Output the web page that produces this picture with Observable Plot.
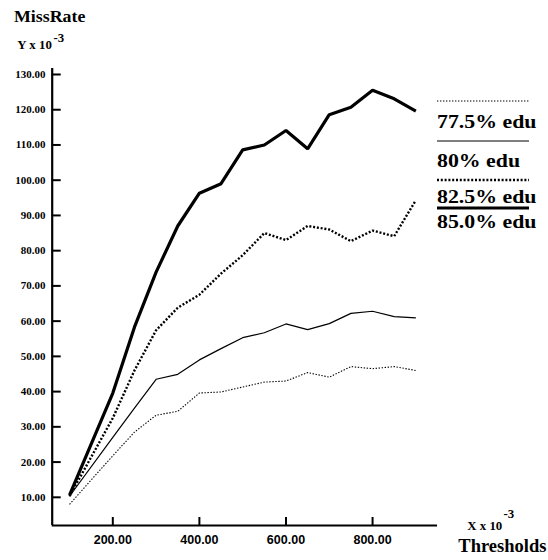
<!DOCTYPE html>
<html>
<head>
<meta charset="utf-8">
<script src="https://cdn.jsdelivr.net/npm/d3@7"></script>
<script src="https://cdn.jsdelivr.net/npm/@observablehq/plot@0.6"></script>
<style>
  html, body { margin: 0; padding: 0; background: #fff; }
  #chart { position: relative; width: 548px; height: 560px; }
</style>
</head>
<body>
<div id="chart"></div>
<script>
// ---- data ----
const thresholds = [100, 200, 250, 300, 350, 400, 450, 500, 550, 600, 650, 700, 750, 800, 850, 900];
const edu775 = [8.0, 21.8, 28.5, 33.3, 34.4, 39.6, 39.9, 41.3, 42.7, 43.0, 45.4, 44.1, 47.1, 46.5, 47.1, 46.0];
const edu80  = [10.3, 27.0, 35.3, 43.5, 44.9, 49.0, 52.2, 55.3, 56.7, 59.2, 57.6, 59.3, 62.2, 62.8, 61.3, 60.9];
const edu825 = [10.3, 32.5, 46.0, 57.4, 63.8, 67.5, 73.5, 78.7, 85.0, 83.0, 87.0, 86.0, 82.7, 85.7, 84.1, 94.3];
const edu85  = [10.6, 39.6, 58.3, 73.9, 87.0, 96.3, 99.0, 108.6, 110.0, 114.1, 108.9, 118.6, 120.7, 125.5, 123.1, 119.6];
const seriesNames = ["77.5% edu", "80% edu", "82.5% edu", "85.0% edu"];
const yTicks = [10, 20, 30, 40, 50, 60, 70, 80, 90, 100, 110, 120, 130];
const xTicks = [200, 400, 600, 800];
const xDomain = [60, 950];
const yDomain = [2, 131.7];

// ---- styles ----
const seriesValues = [edu775, edu80, edu825, edu85];
const lineStyles = [
  {strokeWidth: 1.1, strokeDasharray: "1.4,1.6"},
  {strokeWidth: 1.2, strokeDasharray: null},
  {strokeWidth: 2.4, strokeDasharray: "2,1.8"},
  {strokeWidth: 3.2, strokeDasharray: null}
];
const SERIF = "'Liberation Serif', 'Times New Roman', serif";
const SANS = "'Liberation Sans', Arial, sans-serif";

const rows = seriesNames.flatMap((name, i) =>
  thresholds.map((t, j) => ({name, x: t, y: seriesValues[i][j]})));

const lineMarks = seriesNames.map((name, i) =>
  Plot.line(rows.filter(d => d.name === name), {
    x: "x", y: "y", stroke: "black",
    strokeWidth: lineStyles[i].strokeWidth,
    strokeDasharray: lineStyles[i].strokeDasharray,
    strokeLinecap: "butt",
    strokeLinejoin: "miter"
  }));

const chart = Plot.plot({
  width: 548,
  height: 560,
  marginLeft: 51.7,
  marginRight: 111,
  marginTop: 68,
  marginBottom: 35,
  style: {background: "#fff", color: "black"},
  x: {domain: xDomain, label: null},
  y: {domain: yDomain, label: null},
  marks: [
    Plot.ruleX([xDomain[0]], {strokeWidth: 2.2, stroke: "black"}),
    Plot.ruleY([yDomain[0]], {strokeWidth: 2.2, stroke: "black"}),
    Plot.axisY(yTicks, {tickSize: -9, strokeWidth: 2, tickFormat: () => "", label: null}),
    Plot.axisX(xTicks, {tickSize: -8, strokeWidth: 2, tickFormat: () => "", label: null}),
    ...lineMarks,
    Plot.text(yTicks, {
      y: d => d, frameAnchor: "left", dx: -6.7, textAnchor: "end",
      text: d => d.toFixed(2), fontFamily: SERIF, fontWeight: "bold", fontSize: 11,
      fill: "black", ariaLabel: "ylabels"
    }),
    Plot.text(xTicks, {
      x: d => d, frameAnchor: "bottom", dy: 18,
      text: d => d.toFixed(2), fontFamily: SANS, fontWeight: "bold", fontSize: 12.5,
      fill: "black"
    })
  ]
});

document.getElementById("chart").appendChild(chart);

// stretch the y tick labels horizontally like the original rendering
d3.select(chart).selectAll('g[aria-label="ylabels"] text').each(function () {
  const t = this.getAttribute("transform") || "";
  const x = this.getAttribute("x"), y = this.getAttribute("y");
  let pre = t;
  if (x !== null || y !== null) {
    pre += ` translate(${+x || 0},${+y || 0})`;
    this.removeAttribute("x"); this.removeAttribute("y");
  }
  this.setAttribute("transform", pre + " scale(1.25,1)");
});

// titles and legend
const svg = d3.select(chart);
const deco = svg.append("g")
  .attr("font-family", SERIF).attr("font-weight", "bold")
  .attr("fill", "black").attr("text-anchor", "start");
function label(txt, x, y, size, sx) {
  deco.append("text").attr("transform", `translate(${x},${y}) scale(${sx},1)`)
    .attr("text-anchor", "start")
    .attr("font-size", size).text(txt);
}
label("MissRate", 14, 21.7, 17, 1.05);
label("Y x 10", 17.3, 49.3, 11.5, 1.12);
label("-3", 53.5, 41.5, 11.5, 1.12);
label("X x 10", 467.3, 530, 11.5, 1.12);
label("-3", 503.5, 517.5, 11.5, 1.12);
label("Thresholds", 458.3, 551.7, 18.5, 1);

const legendLineY = [101, 141, 180, 208];
const legendTextY = [128, 166.5, 202.5, 228];
seriesNames.forEach((name, i) => {
  deco.append("line")
    .attr("x1", 437).attr("x2", 529)
    .attr("y1", legendLineY[i]).attr("y2", legendLineY[i])
    .attr("stroke", "black")
    .attr("stroke-width", lineStyles[i].strokeWidth)
    .attr("stroke-dasharray", lineStyles[i].strokeDasharray);
  label(name, 437, legendTextY[i], 19.5, 1.12);
});
</script>
</body>
</html>
